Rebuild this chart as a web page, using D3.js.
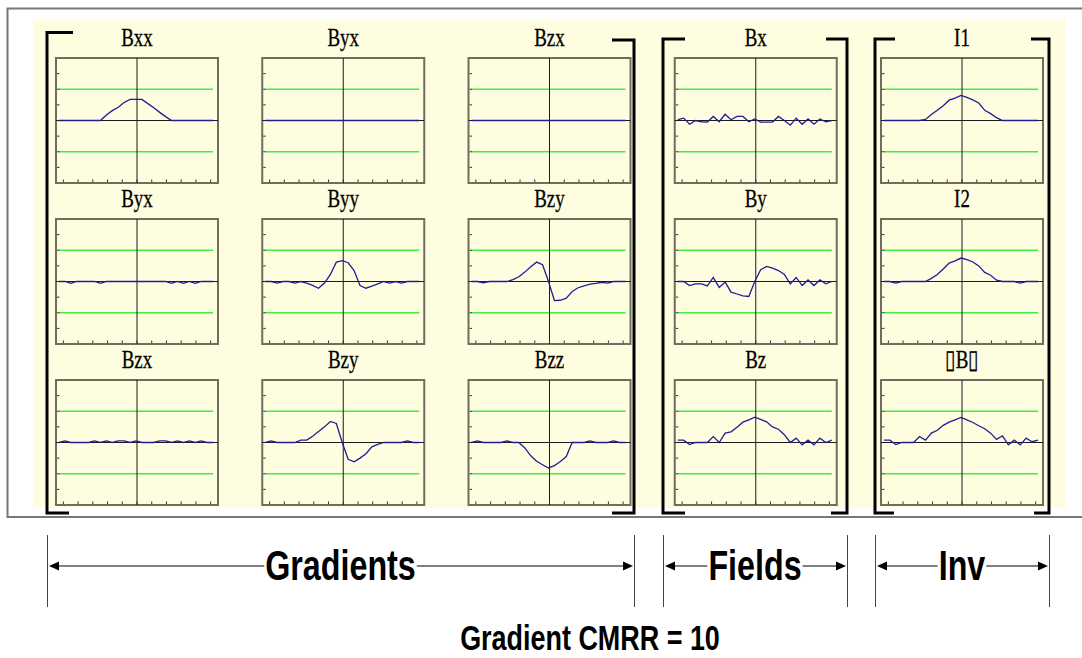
<!DOCTYPE html>
<html lang="en">
  <head>
    <meta charset="UTF-8" />
    <title>Gradient CMRR = 10</title>
    <script src="https://d3js.org/d3.v7.min.js"></script>
    <style>
      body { margin: 0; background: #fff; }
      .box { fill: #fefde0; stroke: #6e6e5e; stroke-width: 2px; }
      .guide { stroke: #3cf03c; stroke-width: 1.6px; }
      .axis0 { stroke: #1a1a1a; stroke-width: 1px; }
      .tick { stroke: #333; stroke-width: 1px; }
      .trace { fill: none; stroke: #1e1e96; stroke-width: 1.3px; }
      .bracket { fill: none; stroke: #000; stroke-width: 3px; }
      .title { font-family: "Liberation Serif", "Times New Roman", serif; font-size: 26px; fill: #000; stroke: #000; stroke-width: 0.3px; }
      .big { font-family: "Liberation Sans", Arial, sans-serif; font-weight: bold; fill: #000; }
    </style>
  </head>
  <body>
    <svg width="1082" height="658"></svg>
    <script>
      // panel titles, row by row
      const titles = [
        ["Bxx", "Byx", "Bzx", "Bx", "I1"],
        ["Byx", "Byy", "Bzy", "By", "I2"],
        ["Bzx", "Bzy", "Bzz", "Bz", "\u25AFB\u25AF"]
      ];

      // traces, 27 samples each (green guides at +-2)
      const bxx  = [0,0,0,0,0,0,0,0,0.35,0.63,0.85,1.15,1.35,1.35,1.35,1.08,0.82,0.52,0.25,0,0,0,0,0,0,0,0];
      const byxA = [0,0,0,0,0,0,0,0,0,0,0,0,0,0,0,0,0,0,0,0,0,0,0,0,0,0,0];
      const bzxA = [0,0,0,0,0,0,0,0,0,0,0,0,0,0,0,0,0,0,0,0,0,0,0,0,0,0,0];
      const byxB = [0,0,-0.12,0,0,0,0,-0.12,0,0,0,0,0,0,0,0,0,0,0,-0.12,0,-0.12,0,-0.12,0,0,0];
      const byy  = [0,0,-0.1,0,0,-0.1,0,-0.1,-0.25,-0.43,-0.1,0.45,1.24,1.33,1.2,0.7,-0.26,-0.43,-0.3,-0.15,0,-0.1,0,-0.1,0,0,0];
      const bzyB = [0,0,-0.08,0,0,0,0,0.12,0.3,0.6,0.95,1.24,1.07,0,-1.22,-1.2,-1.07,-0.64,-0.4,-0.28,-0.17,-0.12,-0.05,-0.1,0,0,0];
      const bzxC = [0,0.1,0,0,0,0,0.1,0,0.1,0,0.1,0.1,0,0.1,0,0,0,0.1,0.1,0,0.1,0,0.1,0,0.1,0,0];
      const bzyC = [0,0.1,0,0,0,0,0.15,0.15,0.4,0.7,1.0,1.35,1.22,0,-1.07,-1.24,-1.0,-0.72,-0.28,-0.12,0,0,0,0,0.1,0,0];
      const bzz  = [0,0.1,0,0,0,0,0.1,0,0,-0.35,-0.85,-1.2,-1.42,-1.63,-1.48,-1.22,-0.9,0,0,0,0.1,0,0,0,0.1,0,0];
      const bx   = [0.05,0.15,-0.24,0,-0.08,-0.1,0.26,-0.08,0.4,0.05,0.26,0.26,-0.08,0.1,-0.1,-0.1,-0.1,0.26,0,-0.3,0.15,-0.24,0.1,-0.24,0.1,-0.08,0];
      const by   = [0,0,-0.26,-0.15,-0.15,-0.28,0.26,-0.38,-0.04,-0.68,-0.8,-0.92,-0.96,0,0.75,0.96,0.85,0.7,0.45,-0.15,0.26,-0.26,0.1,-0.26,0.1,-0.15,0];
      const bz   = [0.15,0.15,-0.13,0,0,0,0.38,0,0.6,0.68,0.98,1.3,1.45,1.62,1.48,1.32,1.0,0.85,0.5,0,0.28,-0.15,0.15,-0.15,0.28,0,0.15];
      const inv1 = [0,0,0,0,0,0,0,0.07,0.38,0.65,0.95,1.3,1.43,1.6,1.48,1.32,1.12,0.65,0.44,0.18,0,0,0,0,0,0,0];
      const inv2 = [0,0,-0.1,0,0,0,0,0,0.2,0.45,0.8,1.18,1.32,1.5,1.4,1.25,1.0,0.58,0.4,0.08,0,0,0,-0.1,0,0,0];
      const bmag = [0.15,0.15,-0.13,0,0,0,0.38,0.15,0.6,0.78,1.1,1.3,1.45,1.6,1.45,1.28,1.07,0.88,0.6,0.2,0.43,-0.15,0.15,-0.15,0.28,0.05,0.15];

      const series = [
        [bxx, byxA, bzxA, bx, inv1],
        [byxB, byy, bzyB, by, inv2],
        [bzxC, bzyC, bzz, bz, bmag]
      ];

      const groupLabels = ["Gradients", "Fields", "Inv"];
      const yTicks = [-3, -2, -1, 1, 2, 3];
      const xTicks = [-5, -4, -3, -2, -1, 0, 1, 2, 3, 4, 5];

      const svg = d3.select("svg");
      const W = 162, H = 125;

      // frame + yellow card
      svg.append("rect").attr("x", 7.5).attr("y", 8.5).attr("width", 1100).attr("height", 508.5)
        .attr("fill", "#fff").attr("stroke", "#777").attr("stroke-width", 2);
      svg.append("rect").attr("x", 33).attr("y", 19).attr("width", 1033).attr("height", 489)
        .attr("fill", "#fefde0");

      const colX = d3.scaleLinear().domain([0, 4]).range([56, 881]);
      const rowY = d3.scaleLinear().domain([0, 2]).range([58, 380]);

      const xs = d3.scaleLinear().domain([-5.5, 5.5]).range([0, W]);
      const idx = d3.scalePoint().domain(d3.range(27)).range([3, W - 5]);
      const ys = d3.scaleLinear().domain([-4, 4]).range([H, 0]);
      const line = d3.line().x((d, i) => idx(i)).y(d => ys(d));

      titles.forEach((row, r) => {
        row.forEach((title, c) => {
          const g = svg.append("g")
            .attr("transform", `translate(${colX(c)},${rowY(r)})`);

          g.append("rect").attr("class", "box").attr("width", W).attr("height", H);

          g.selectAll(".guide").data([2, -2]).enter().append("line")
            .attr("class", "guide")
            .attr("x1", idx(0)).attr("x2", idx(26))
            .attr("y1", d => ys(d)).attr("y2", d => ys(d));

          g.append("line").attr("class", "axis0")
            .attr("x1", 0).attr("x2", W).attr("y1", ys(0)).attr("y2", ys(0));
          g.append("line").attr("class", "axis0")
            .attr("x1", xs(0)).attr("x2", xs(0)).attr("y1", 0).attr("y2", H);

          g.selectAll(".ty").data(yTicks).enter().append("line")
            .attr("class", "tick")
            .attr("x1", 1).attr("x2", 3.5)
            .attr("y1", d => ys(d)).attr("y2", d => ys(d));
          g.selectAll(".tx").data(xTicks).enter().append("line")
            .attr("class", "tick")
            .attr("x1", d => xs(d)).attr("x2", d => xs(d))
            .attr("y1", H - 1).attr("y2", H - 3.5);

          g.append("path").attr("class", "trace").attr("d", line(series[r][c]));

          g.append("text").attr("class", "title")
            .attr("text-anchor", "middle")
            .attr("transform", `translate(${W / 2},-12) scale(0.73,1)`)
            .text(title);
        });
      });

      // square brackets: [x left, x right, top-left y, top-right y]
      const brackets = [
        { l: 47, r: 634, tl: 32.5, tr: 40, sl: 26, sr: 22, bl: 22, br: 22 },
        { l: 663, r: 847, tl: 39, tr: 39, sl: 22, sr: 21, bl: 22, br: 16 },
        { l: 875, r: 1049, tl: 39, tr: 39, sl: 20, sr: 18, bl: 19, br: 15 }
      ];
      const bottomY = 513;
      brackets.forEach(b => {
        svg.append("path").attr("class", "bracket")
          .attr("d", `M${b.l + b.sl},${b.tl}H${b.l}V${bottomY}H${b.l + b.bl}`);
        svg.append("path").attr("class", "bracket")
          .attr("d", `M${b.r - b.sr},${b.tr}H${b.r}V${bottomY}H${b.r - b.br}`);
      });

      // range arrows below
      const arrowY = 566;
      brackets.forEach((b, i) => {
        [b.l, b.r].forEach(x => {
          svg.append("line").attr("x1", x + 0.5).attr("x2", x + 0.5)
            .attr("y1", 535).attr("y2", 607)
            .attr("stroke", "#444").attr("stroke-width", 1);
        });
        const cx = (b.l + b.r) / 2;
        const t = svg.append("text").attr("class", "big")
          .attr("font-size", 43)
          .attr("text-anchor", "middle")
          .attr("transform", `translate(${cx},580) scale(0.75,1)`)
          .text(groupLabels[i]);
        const half = t.node().getComputedTextLength() * 0.75 / 2;
        svg.append("line").attr("x1", b.l + 4).attr("x2", cx - half - 1)
          .attr("y1", arrowY).attr("y2", arrowY).attr("stroke", "#000").attr("stroke-width", 1.2);
        svg.append("line").attr("x1", cx + half + 1).attr("x2", b.r - 4)
          .attr("y1", arrowY).attr("y2", arrowY).attr("stroke", "#000").attr("stroke-width", 1.2);
        svg.append("path")
          .attr("d", `M${b.l + 2},${arrowY}L${b.l + 12},${arrowY - 4.5}L${b.l + 12},${arrowY + 4.5}Z`);
        svg.append("path")
          .attr("d", `M${b.r - 1},${arrowY}L${b.r - 11},${arrowY - 4.5}L${b.r - 11},${arrowY + 4.5}Z`);
      });

      svg.append("text").attr("class", "big")
        .attr("font-size", 35)
        .attr("text-anchor", "middle")
        .attr("transform", "translate(590,650) scale(0.77,1)")
        .text("Gradient CMRR = 10");
    </script>
  </body>
</html>
